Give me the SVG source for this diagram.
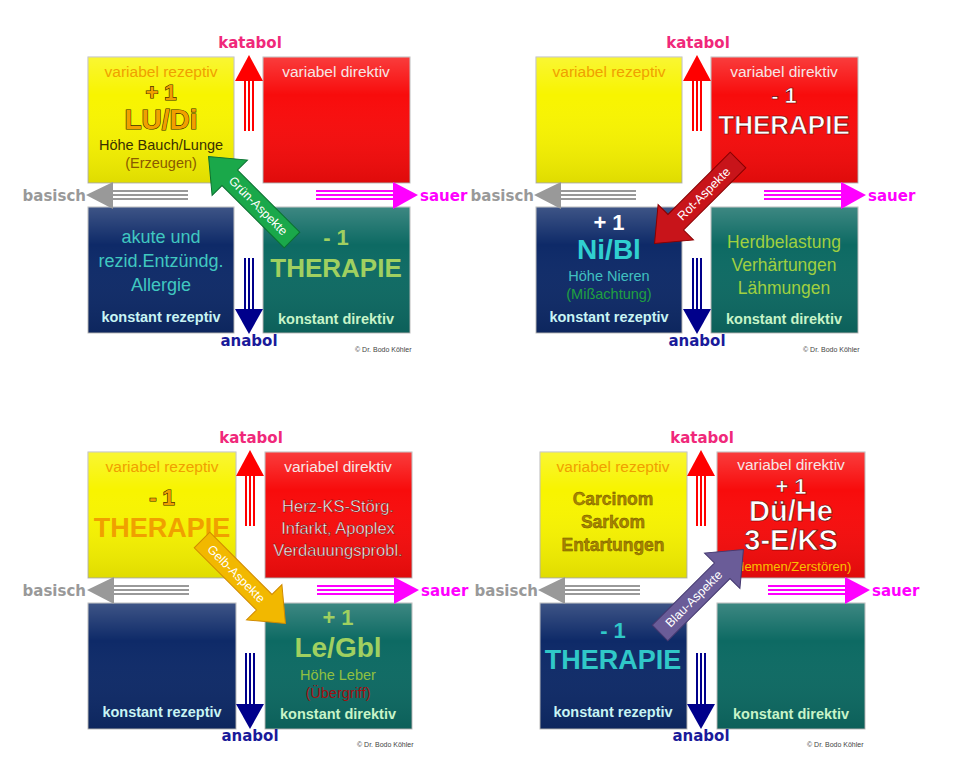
<svg xmlns="http://www.w3.org/2000/svg" width="964" height="778" viewBox="0 0 964 778">
<style>
text{font-family:"Liberation Sans",Arial,sans-serif;text-anchor:middle}
.b{font-weight:bold}
.lab{font-size:14.5px}
.ti{font-size:15.5px}
.ko{font-size:14.5px;font-weight:bold}
.sm{font-size:13px}
.ax{font-size:15px;font-weight:bold;font-family:"DejaVu Sans","Liberation Sans",sans-serif}
.cp{font-size:7px;fill:#444;text-anchor:start}
.box{stroke:#bbb;stroke-width:1}
.y{fill:#f8f400}.r{fill:#f80c0c}.bl{fill:#0e2a68}.t{fill:#0d6a63}
.sh{paint-order:stroke;stroke:#3a2a00;stroke-width:1.2px}
.at{font-size:12.5px;fill:#fff}
</style>
<defs>
<linearGradient id="gl" x1="0" y1="0" x2="0" y2="1"><stop offset="0" stop-color="#fff" stop-opacity="0.2"/><stop offset="0.3" stop-color="#fff" stop-opacity="0"/><stop offset="1" stop-color="#000" stop-opacity="0.1"/></linearGradient>
<g id="axes">
<polygon points="235,81 249,55 263,81" fill="#f00"/>
<g stroke="#f00" stroke-width="2"><line x1="245" y1="81" x2="245" y2="131"/><line x1="249" y1="81" x2="249" y2="131"/><line x1="253" y1="81" x2="253" y2="131"/></g>
<g stroke="#00008b" stroke-width="2"><line x1="245" y1="258" x2="245" y2="309"/><line x1="249" y1="258" x2="249" y2="309"/><line x1="253" y1="258" x2="253" y2="309"/></g>
<polygon points="235,309 249,334 263,309" fill="#00008b"/>
<polygon points="113,182 86,195 113,209" fill="#999"/>
<g stroke="#999" stroke-width="2"><line x1="113" y1="191" x2="188" y2="191"/><line x1="113" y1="195" x2="188" y2="195"/><line x1="113" y1="199" x2="188" y2="199"/></g>
<g stroke="#f0f" stroke-width="2"><line x1="316" y1="191" x2="393" y2="191"/><line x1="316" y1="195" x2="393" y2="195"/><line x1="316" y1="199" x2="393" y2="199"/></g>
<polygon points="393,182 418,195 393,209" fill="#f0f"/>
</g>
<polygon id="darr" points="0,-11 88,-11 88,-25 118,0 88,25 88,11 0,11"/>
</defs>

<!-- Panel 1 -->
<g id="p1">
<g id="p1-yellow"><rect class="box y" x="88" y="57" width="146" height="126"/><rect x="88" y="57" width="146" height="126" fill="url(#gl)"/>
<text class="ti" x="161" y="77" fill="#f0a000">variabel rezeptiv</text>
<text class="b sh" x="161" y="100" font-size="22" fill="#f0a000">+ 1</text>
<text class="b sh" x="161" y="129" font-size="28" fill="#f0a000">LU/Di</text>
<text class="lab" x="161" y="150" fill="#3a3000">Höhe Bauch/Lunge</text>
<text class="lab" x="161" y="168" fill="#8a5a00">(Erzeugen)</text></g>
<g id="p1-red"><rect class="box r" x="263" y="57" width="147" height="126"/><rect x="263" y="57" width="147" height="126" fill="url(#gl)"/>
<text class="ti" x="336" y="77" fill="#f6e6e6">variabel direktiv</text></g>
<g id="p1-blue"><rect class="box bl" x="88" y="207" width="146" height="126"/><rect x="88" y="207" width="146" height="126" fill="url(#gl)"/>
<text x="161" y="243" font-size="18" fill="#40c8c0">akute und</text>
<text x="161" y="267" font-size="18" fill="#40c8c0">rezid.Entzündg.</text>
<text x="161" y="291" font-size="18" fill="#40c8c0">Allergie</text>
<text class="ko" x="161" y="322" fill="#c8f4f4">konstant rezeptiv</text></g>
<g id="p1-teal"><rect class="box t" x="263" y="207" width="147" height="126"/><rect x="263" y="207" width="147" height="126" fill="url(#gl)"/>
<text class="b" x="336" y="245" font-size="22" fill="#a0d060">- 1</text>
<text class="b" x="336" y="277" font-size="26" fill="#a0d060">THERAPIE</text>
<text class="ko" x="336" y="324" fill="#c8f4c8">konstant direktiv</text></g>
<g id="p1-axes"><use href="#axes"/>
<text class="ax" x="250" y="48" fill="#f0287a">katabol</text>
<text class="ax" x="249" y="346" fill="#1a1a9a">anabol</text>
<text class="ax" x="86" y="201" fill="#999" style="text-anchor:end">basisch</text>
<text class="ax" x="420" y="201" fill="#f0f" style="text-anchor:start">sauer</text>
<text class="cp" x="355" y="352">© Dr. Bodo Köhler</text></g>
</g>

<!-- Panel 2 -->
<g id="p2" transform="translate(448,0)">
<g id="p2-yellow"><rect class="box y" x="88" y="57" width="146" height="126"/><rect x="88" y="57" width="146" height="126" fill="url(#gl)"/>
<text class="ti" x="161" y="77" fill="#f0a000">variabel rezeptiv</text></g>
<g id="p2-red"><rect class="box r" x="263" y="57" width="147" height="126"/><rect x="263" y="57" width="147" height="126" fill="url(#gl)"/>
<text class="ti" x="336" y="77" fill="#f6e6e6">variabel direktiv</text>
<text class="b" x="336" y="103" font-size="22" fill="#fff" stroke="#600" stroke-width="0.6">- 1</text>
<text class="b" x="336" y="134" font-size="26" fill="#fff" stroke="#600" stroke-width="0.6">THERAPIE</text></g>
<g id="p2-blue"><rect class="box bl" x="88" y="207" width="146" height="126"/><rect x="88" y="207" width="146" height="126" fill="url(#gl)"/>
<text class="b" x="161" y="230" font-size="22" fill="#fff">+ 1</text>
<text class="b" x="161" y="259" font-size="28" fill="#30d0d0">Ni/Bl</text>
<text class="lab" x="161" y="281" fill="#40c0c0">Höhe Nieren</text>
<text class="lab" x="161" y="299" fill="#20a040">(Mißachtung)</text>
<text class="ko" x="161" y="322" fill="#c8f4f4">konstant rezeptiv</text></g>
<g id="p2-teal"><rect class="box t" x="263" y="207" width="147" height="126"/><rect x="263" y="207" width="147" height="126" fill="url(#gl)"/>
<text x="336" y="248" font-size="17.5" fill="#a0d040">Herdbelastung</text>
<text x="336" y="271" font-size="17.5" fill="#a0d040">Verhärtungen</text>
<text x="336" y="294" font-size="17.5" fill="#a0d040">Lähmungen</text>
<text class="ko" x="336" y="324" fill="#c8f4c8">konstant direktiv</text></g>
<g id="p2-axes"><use href="#axes"/>
<text class="ax" x="250" y="48" fill="#f0287a">katabol</text>
<text class="ax" x="249" y="346" fill="#1a1a9a">anabol</text>
<text class="ax" x="86" y="201" fill="#999" style="text-anchor:end">basisch</text>
<text class="ax" x="420" y="201" fill="#f0f" style="text-anchor:start">sauer</text>
<text class="cp" x="355" y="352">© Dr. Bodo Köhler</text></g>
</g>

<!-- Panel 3 -->
<g id="p3" transform="translate(0,395)">
<g id="p3-yellow"><rect class="box y" x="88" y="57" width="148" height="126"/><rect x="88" y="57" width="148" height="126" fill="url(#gl)"/>
<text class="ti" x="162" y="77" fill="#f0a000">variabel rezeptiv</text>
<text class="b sh" x="162" y="110" font-size="22" fill="#f0a000">- 1</text>
<text class="b" x="162" y="142" font-size="27" fill="#f0a000">THERAPIE</text></g>
<g id="p3-red"><rect class="box r" x="265" y="57" width="147" height="126"/><rect x="265" y="57" width="147" height="126" fill="url(#gl)"/>
<text class="ti" x="338" y="77" fill="#f6e6e6">variabel direktiv</text>
<text x="338" y="117" font-size="16.5" fill="#fff" stroke="#500" stroke-width="0.4">Herz-KS-Störg.</text>
<text x="338" y="139" font-size="16.5" fill="#fff" stroke="#500" stroke-width="0.4">Infarkt, Apoplex</text>
<text x="338" y="161" font-size="16.5" fill="#fff" stroke="#500" stroke-width="0.4">Verdauungsprobl.</text></g>
<g id="p3-blue"><rect class="box bl" x="88" y="208" width="148" height="126"/><rect x="88" y="208" width="148" height="126" fill="url(#gl)"/>
<text class="ko" x="162" y="322" fill="#c8f4f4">konstant rezeptiv</text></g>
<g id="p3-teal"><rect class="box t" x="265" y="208" width="147" height="126"/><rect x="265" y="208" width="147" height="126" fill="url(#gl)"/>
<text class="b" x="338" y="230" font-size="22" fill="#a0d060">+ 1</text>
<text class="b" x="338" y="262" font-size="28" fill="#a0d060">Le/Gbl</text>
<text class="lab" x="338" y="285" fill="#90c040">Höhe Leber</text>
<text class="lab" x="338" y="303" fill="#a01010">(Übergriff)</text>
<text class="ko" x="338" y="324" fill="#c8f4c8">konstant direktiv</text></g>
<g id="p3-axes"><use href="#axes" transform="translate(1,0)"/>
<text class="ax" x="251" y="48" fill="#f0287a">katabol</text>
<text class="ax" x="250" y="346" fill="#1a1a9a">anabol</text>
<text class="ax" x="86" y="201" fill="#999" style="text-anchor:end">basisch</text>
<text class="ax" x="421" y="201" fill="#f0f" style="text-anchor:start">sauer</text>
<text class="cp" x="357" y="352">© Dr. Bodo Köhler</text></g>
</g>

<!-- Panel 4 -->
<g id="p4" transform="translate(452,395)">
<g id="p4-yellow"><rect class="box y" x="88" y="57" width="147" height="126"/><rect x="88" y="57" width="147" height="126" fill="url(#gl)"/>
<text class="ti" x="161" y="77" fill="#f0a000">variabel rezeptiv</text>
<text class="b" x="161" y="110" font-size="17.5" fill="#a88400" stroke="#6a5000" stroke-width="0.4">Carcinom</text>
<text class="b" x="161" y="133" font-size="17.5" fill="#a88400" stroke="#6a5000" stroke-width="0.4">Sarkom</text>
<text class="b" x="161" y="156" font-size="17.5" fill="#a88400" stroke="#6a5000" stroke-width="0.4">Entartungen</text></g>
<g id="p4-red"><rect class="box r" x="265" y="57" width="148" height="126"/><rect x="265" y="57" width="148" height="126" fill="url(#gl)"/>
<text class="ti" x="339" y="75" fill="#f6e6e6">variabel direktiv</text>
<text class="b" x="339" y="99" font-size="22" fill="#fff" stroke="#500" stroke-width="0.5">+ 1</text>
<text class="b" x="339" y="126" font-size="29" fill="#fff" stroke="#500" stroke-width="0.6">Dü/He</text>
<text class="b" x="339" y="155" font-size="29" fill="#fff" stroke="#500" stroke-width="0.6">3-E/KS</text>
<text class="sm" x="339" y="176" fill="#f8c000">(Hemmen/Zerstören)</text></g>
<g id="p4-blue"><rect class="box bl" x="88" y="208" width="147" height="126"/><rect x="88" y="208" width="147" height="126" fill="url(#gl)"/>
<text class="b" x="161" y="243" font-size="22" fill="#30c8c8">- 1</text>
<text class="b" x="161" y="274" font-size="27" fill="#30c8c8">THERAPIE</text>
<text class="ko" x="161" y="322" fill="#c8f4f4">konstant rezeptiv</text></g>
<g id="p4-teal"><rect class="box t" x="265" y="208" width="148" height="126"/><rect x="265" y="208" width="148" height="126" fill="url(#gl)"/>
<text class="ko" x="339" y="324" fill="#c8f4c8">konstant direktiv</text></g>
<g id="p4-axes"><use href="#axes"/>
<text class="ax" x="250" y="48" fill="#f0287a">katabol</text>
<text class="ax" x="249" y="346" fill="#1a1a9a">anabol</text>
<text class="ax" x="86" y="201" fill="#999" style="text-anchor:end">basisch</text>
<text class="ax" x="420" y="201" fill="#f0f" style="text-anchor:start">sauer</text>
<text class="cp" x="355" y="352">© Dr. Bodo Köhler</text></g>
</g>

<!-- diagonal aspect connectors -->
<g id="connectors">
<g id="c-gruen"><use href="#darr" transform="translate(292,240) rotate(-135)" fill="#1aa84a" stroke="#0a7030" stroke-width="1"/>
<text class="at" transform="translate(258,206) rotate(45)" y="4">Grün-Aspekte</text></g>
<g id="c-rot"><use href="#darr" transform="translate(738,160) rotate(135)" fill="#c8141a" stroke="#800" stroke-width="1"/>
<text class="at" transform="translate(704,194) rotate(-45)" y="4">Rot-Aspekte</text></g>
<g id="c-gelb"><use href="#darr" transform="translate(202,540) rotate(45)" fill="#f2b800" stroke="#d08a00" stroke-width="1"/>
<text class="at" transform="translate(236,574) rotate(45)" y="4">Gelb-Aspekte</text></g>
<g id="c-blau"><use href="#darr" transform="translate(660,633) rotate(-45)" fill="#6a5c98" stroke="#443870" stroke-width="1"/>
<text class="at" transform="translate(694,599) rotate(-45)" y="4">Blau-Aspekte</text></g>
</g>
</svg>
